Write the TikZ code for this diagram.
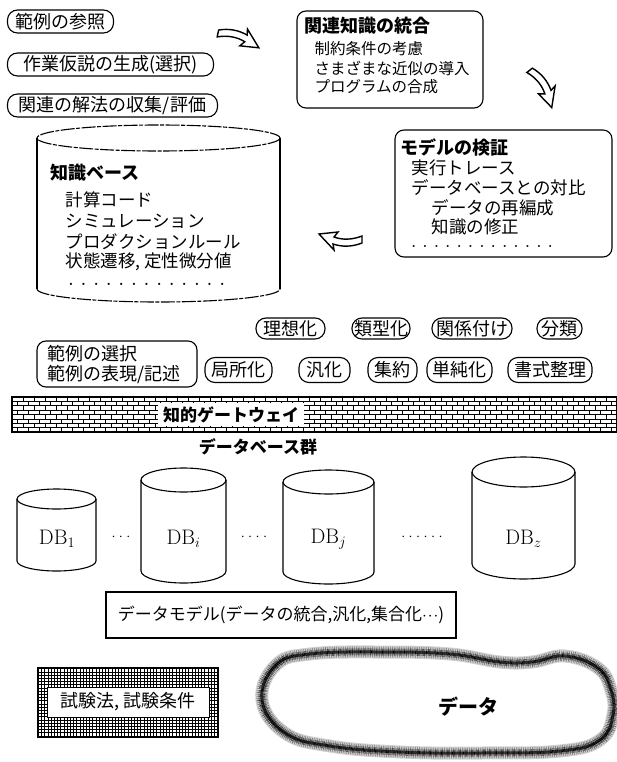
\documentclass[tikz,border=0pt]{standalone}
\usepackage{fontspec}
\newfontfamily\jp{Noto Sans CJK JP}
\usetikzlibrary{patterns}
\newcommand\dbcyl[5]{%
  \pgfmathsetmacro\cx{(#1+#2)/2}\pgfmathsetmacro\rx{(#2-#1)/2}%
  \draw[fill=white] (\cx,#3+#5) ellipse [x radius=\rx, y radius=#5];
  \draw (#1,#3+#5) -- (#1,#4-#5) arc[start angle=180, end angle=0, x radius=\rx, y radius=#5] -- (#2,#3+#5);
}
\newcommand\mdots[1]{\foreach\i in {1,...,#1}{$\cdot$\hspace{3.5pt}}}
\begin{document}
\begin{tikzpicture}[x=1pt, y=-1pt, line width=1.1pt,
  jf/.style={font={\jp\fontsize{#1}{#1}\selectfont}},
  jb/.style={font={\jp\bfseries\fontsize{#1}{#1}\selectfont}},
  pill/.style={draw, rounded corners=10pt, inner sep=0pt, jf=18},
  tl/.style={anchor=west, inner sep=0pt},
  dotrow/.style={anchor=west, inner sep=0pt, font={\bfseries\fontsize{#1}{#1}\selectfont}},
  kbline/.style={dash pattern=on 14pt off 1.5pt on 4pt off 1.5pt},
  harrow/.pic={
    \draw[line width=1.4pt, fill=white]
      (0,-3) .. controls (10,-7) and (20,-7) .. (29,-4)
      -- (28,-10) -- (43,6) -- (24,8) -- (28,3)
      .. controls (20,0) and (10,0) .. (0,4) -- cycle;
  }]
\useasboundingbox (0,0) rectangle (617,762);

% top-left pills
\node[pill, minimum width=106pt, minimum height=23pt] (p1) at (60.5,21.5) {範例の参照};
\node[pill, minimum width=206pt, minimum height=23pt] (p2) at (110.5,64.5) {作業仮説の生成(選択)};
\node[pill, minimum width=210pt, minimum height=23pt] (p3) at (112.5,105.5) {関連の解法の収集/評価};

% arrows
\coordinate (a1) at (218,33);
\pic[rotate=-12] at (a1) {harrow};
\coordinate (a2) at (530,70);
\pic[rotate=-52] at (a2) {harrow};
\coordinate (a3) at (362,240);
\pic[rotate=180] at (a3) {harrow};

% box 1
\node[draw, rounded corners=9pt, minimum width=186pt, minimum height=97pt] (b1) at (390,59.5) {};
\node[tl, jb=18] (b1t) at (304,26) {関連知識の統合};
\node[tl, jf=15.5] (b1a) at (314,49) {制約条件の考慮};
\node[tl, jf=15.5] (b1b) at (314,68) {さまざまな近似の導入};
\node[tl, jf=15.5] (b1c) at (314,87) {プログラムの合成};

% box 2
\node[draw, rounded corners=9pt, minimum width=217pt, minimum height=127pt] (b2) at (503.5,193.5) {};
\node[tl, jb=18] (b2t) at (400,148) {モデルの検証};
\node[tl, jf=17.5] (b2a) at (411,168) {実行トレース};
\node[tl, jf=17.5] (b2b) at (411,188) {データベースとの対比};
\node[tl, jf=17.5] (b2c) at (431,208) {データの再編成};
\node[tl, jf=17.5] (b2d) at (431,227) {知識の修正};
\node[dotrow=14] (b2e) at (411,246) {. . . . . . . . . . . . .};

% knowledge base cylinder
\draw[kbline, fill=white] (158.5,138) ellipse [x radius=121.5, y radius=13];
\draw (37,138) -- (37,289);
\draw (280,138) -- (280,289);
\draw[kbline] (37,289) arc[start angle=180, end angle=0, x radius=121.5, y radius=13];
\node[tl, jb=18] (kbt) at (50,173) {知識ベース};
\node[tl, jf=17.5] (kba) at (65,200) {計算コード};
\node[tl, jf=17.5] (kbb) at (65,221) {シミュレーション};
\node[tl, jf=17.5] (kbc) at (65,242) {プロダクションルール};
\node[tl, jf=17.5] (kbd) at (65,262) {状態遷移, 定性微分値};
\node[dotrow=15.5] (kbe) at (68,284) {. . . . . . . . . . . . .};

% example box
\node[draw, rounded corners=9pt, minimum width=160pt, minimum height=46pt] (hb) at (117,364) {};
\node[tl, jf=18] (hba) at (47,354) {範例の選択};
\node[tl, jf=18] (hbb) at (47,375) {範例の表現/記述};

% operation pills
\node[pill, minimum width=69pt, minimum height=21pt] (r1) at (290.5,328.5) {理想化};
\node[pill, minimum width=58pt, minimum height=21pt] (r2) at (381,328.5) {類型化};
\node[pill, minimum width=80pt, minimum height=21pt] (r3) at (472,328.5) {関係付け};
\node[pill, minimum width=45pt, minimum height=21pt] (r4) at (559.5,328.5) {分類};
\node[pill, minimum width=67pt, minimum height=25pt] (s1) at (238.5,370) {局所化};
\node[pill, minimum width=51pt, minimum height=25pt] (s2) at (324.5,370) {汎化};
\node[pill, minimum width=49pt, minimum height=25pt] (s3) at (392.5,370) {集約};
\node[pill, minimum width=65pt, minimum height=25pt] (s4) at (459.5,370) {単純化};
\node[pill, minimum width=84pt, minimum height=25pt] (s5) at (550,370) {書式整理};

% gateway band (bricks)
\begin{scope}
  \clip (12,397) rectangle (617,432);
  \foreach \r in {0,...,7} {
    \pgfmathsetmacro\yy{397+\r*4.4}
    \pgfmathsetmacro\off{mod(\r,2)*5.5}
    \draw[line width=0.9pt] (12,\yy) -- (617,\yy);
    \foreach \c in {-1,...,55} {
      \draw[line width=0.8pt] ({12+\off+\c*11},\yy) -- ++(0,4.4);
    }
  }
\end{scope}
\draw (12,397) rectangle (617,432);
\node[jb=17, fill=white, inner xsep=5pt, inner ysep=3pt] (gw) at (231,414.5) {知的ゲートウェイ};

\node[jb=17] (dbg) at (258,447) {データベース群};

% databases
\dbcyl{17}{96}{489}{571}{10}
\dbcyl{141}{226}{468}{583}{12}
\dbcyl{283}{374}{470}{584}{12}
\dbcyl{472}{575}{457}{579}{15}
\node[font=\fontsize{21}{21}\selectfont] (db1) at (57,539) {DB$_1$};
\node[font=\fontsize{21}{21}\selectfont] (dbi) at (183.5,539) {DB$_i$};
\node[font=\fontsize{21}{21}\selectfont] (dbj) at (328.5,539) {DB$_j$};
\node[font=\fontsize{21}{21}\selectfont] (dbz) at (523.5,539) {DB$_z$};
\node[font=\fontsize{14}{14}\selectfont] (d1) at (121,537) {\mdots{3}};
\node[font=\fontsize{14}{14}\selectfont] (d2) at (254,537) {\mdots{4}};
\node[font=\fontsize{14}{14}\selectfont] (d3) at (422,537) {\mdots{6}};

% data model
\node[draw, minimum width=350pt, minimum height=46pt, jf=17] (dm) at (281,615) {データモデル(データの統合,汎化,集合化$\cdot\!\cdot\!\cdot$)};

% test conditions
\draw[line width=0.7pt, step=3.2pt] (38,668) grid (218,737);
\draw (38,668) rectangle (218,737);
\node[fill=white, draw, line width=0.8pt, minimum width=162pt, minimum height=30pt, jf=18] (tb) at (128,702) {試験法, 試験条件};

% data blob
\def\blobpath{plot[smooth cycle, tension=0.7] coordinates {(262,700) (276,665) (310,654) (380,652) (450,654) (500,662) (532,662) (565,656) (598,668) (611,690) (613,715) (600,740) (560,751) (480,753) (400,752) (330,746) (285,733)}}
\draw[line width=13pt, black!18] \blobpath;
\draw[line width=11pt, black!55, dash pattern=on 0.5pt off 1.3pt] \blobpath;
\draw[line width=7pt, black!85, dash pattern=on 0.4pt off 0.8pt] \blobpath;
\draw[line width=3pt, black, dash pattern=on 0.6pt off 0.5pt] \blobpath;
\node[jb=20] (dt) at (468,707) {データ};
\end{tikzpicture}
\end{document}
